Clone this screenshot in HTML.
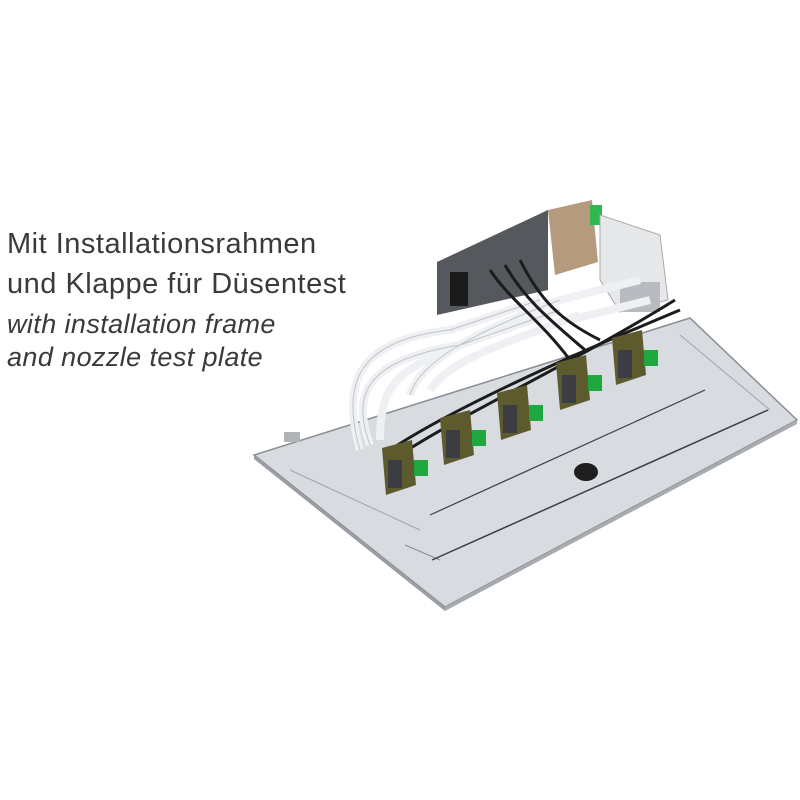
<!DOCTYPE html>
<html><head><style>
body{margin:0;width:800px;height:800px;background:#fff;overflow:hidden;position:relative;font-family:"Liberation Sans",sans-serif}
.t{position:absolute;left:7px;color:#3a3a3a;white-space:nowrap;line-height:1}
</style></head><body>
<svg width="800" height="800" style="position:absolute;left:0;top:0">
<polygon points="254,455 690,318 797,420 445,607" fill="#d8dbe0" stroke="#8a8d92" stroke-width="1.5"/>
<polygon points="254,455 445,607 445,611 254,459" fill="#9a9da2"/>
<polygon points="445,607 797,420 797,424 445,611" fill="#a8abb0"/>
<line x1="405" y1="545" x2="440" y2="560" stroke="#8a8d92" stroke-width="1"/>
<line x1="432" y1="560" x2="768" y2="410" stroke="#3c3f44" stroke-width="1.5"/>
<line x1="430" y1="515" x2="705" y2="390" stroke="#3c3f44" stroke-width="1.2"/>
<line x1="290" y1="470" x2="420" y2="530" stroke="#a0a3a8" stroke-width="1"/>
<line x1="680" y1="335" x2="770" y2="410" stroke="#a0a3a8" stroke-width="1"/>
<ellipse cx="586" cy="472" rx="12" ry="9" fill="#1e1e1e"/>
<rect x="284" y="432" width="16" height="10" fill="#b0b3b8"/>
<polygon points="437,262 548,210 548,290 437,315" fill="#55585d"/>
<rect x="450" y="272" width="18" height="34" fill="#1b1b1b"/>
<polygon points="548,210 592,200 598,262 555,275" fill="#b59a7e"/>
<rect x="590" y="205" width="12" height="20" fill="#2fb84f"/>
<polygon points="600,215 660,235 668,300 620,312 600,280" fill="#e6e8ea" stroke="#aaa"/>
<rect x="620" y="282" width="40" height="30" fill="#b8bbc0"/>
<g fill="none" stroke="#eef0f3" stroke-width="8">
<path d="M360,450 C340,380 360,340 450,330 L540,300"/>
<path d="M370,445 C350,390 370,360 460,345 L560,310"/>
<path d="M380,440 C380,380 400,370 470,340"/>
<path d="M410,395 C420,360 480,330 560,300"/>
<path d="M430,390 C450,360 500,345 580,315"/>
<path d="M560,300 L640,280"/>
<path d="M570,320 L650,300"/>
</g>
<g fill="none" stroke="#c0c3c8" stroke-width="1">
<path d="M360,450 C340,380 360,340 450,330 L540,300"/>
<path d="M410,395 C420,360 480,330 560,300"/>
<path d="M370,445 C350,390 370,360 460,345 L560,310"/>
</g>
<g fill="none" stroke="#1c1c1c" stroke-width="3">
<path d="M490,270 C510,300 540,320 570,360"/>
<path d="M505,265 C525,300 550,320 585,350"/>
<path d="M520,260 C540,300 560,320 600,340"/>
<path d="M390,450 C450,410 560,360 680,310"/>
<path d="M400,455 C460,415 570,365 675,300"/>
</g>
<g>
<g transform="translate(382,440)"><polygon points="0,8 30,0 34,45 4,55" fill="#5d5a2e"/><rect x="6" y="20" width="14" height="28" fill="#3b3d42"/><rect x="32" y="20" width="14" height="16" fill="#1fa83f"/></g>
<g transform="translate(440,410)"><polygon points="0,8 30,0 34,45 4,55" fill="#5d5a2e"/><rect x="6" y="20" width="14" height="28" fill="#3b3d42"/><rect x="32" y="20" width="14" height="16" fill="#1fa83f"/></g>
<g transform="translate(497,385)"><polygon points="0,8 30,0 34,45 4,55" fill="#5d5a2e"/><rect x="6" y="20" width="14" height="28" fill="#3b3d42"/><rect x="32" y="20" width="14" height="16" fill="#1fa83f"/></g>
<g transform="translate(556,355)"><polygon points="0,8 30,0 34,45 4,55" fill="#5d5a2e"/><rect x="6" y="20" width="14" height="28" fill="#3b3d42"/><rect x="32" y="20" width="14" height="16" fill="#1fa83f"/></g>
<g transform="translate(612,330)"><polygon points="0,8 30,0 34,45 4,55" fill="#5d5a2e"/><rect x="6" y="20" width="14" height="28" fill="#3b3d42"/><rect x="32" y="20" width="14" height="16" fill="#1fa83f"/></g>
</g>
</svg>
<div class="t" style="top:230px;font-size:29px;letter-spacing:0.5px">Mit Installationsrahmen</div>
<div class="t" style="top:270px;font-size:29px;letter-spacing:0.5px">und Klappe für Düsentest</div>
<div class="t" style="top:311px;font-size:27px;font-style:italic;letter-spacing:0.4px">with installation frame</div>
<div class="t" style="top:344px;font-size:27px;font-style:italic;letter-spacing:0.4px">and nozzle test plate</div>
</body></html>
